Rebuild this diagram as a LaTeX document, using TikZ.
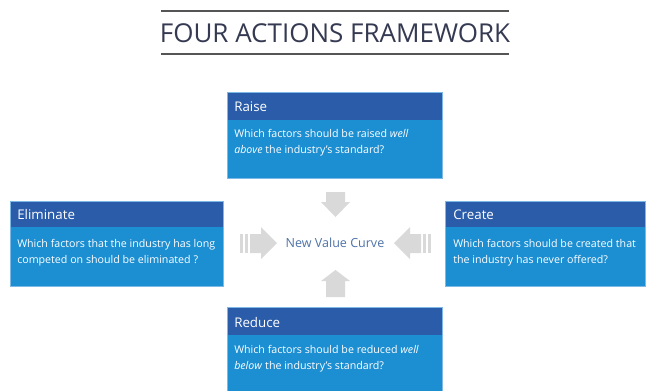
\documentclass[tikz,border=0pt]{standalone}
\usepackage{fontspec}
\setmainfont{Open Sans}
\newfontfamily\titlefont{Open Sans}
\definecolor{hdr}{HTML}{2B5CA9}
\definecolor{bdy}{HTML}{1C8ED2}
\definecolor{bordc}{HTML}{7DB8E6}
\definecolor{arr}{HTML}{D9D9D9}
\definecolor{nvc}{HTML}{4F73A8}
\definecolor{ttl}{HTML}{353A52}
\definecolor{rule}{HTML}{555555}
\begin{document}
\begin{tikzpicture}[x=0.75pt,y=-0.75pt,
  hdrtext/.style={anchor=base west,inner sep=0pt,text=white,font=\fontsize{10}{12}\selectfont},
  bodytext/.style={anchor=base west,inner sep=0pt,text=white,font=\fontsize{8}{9}\selectfont},
  arrowshape/.style={fill=arr,draw=none},
  rulestyle/.style={draw=rule,line width=0.9pt}]
\useasboundingbox (0,0) rectangle (649,390);
\fill[white] (0,0) rectangle (649,390);
% title
\coordinate (tl1) at (161,11); \coordinate (tr1) at (509,11);
\coordinate (tl2) at (161,54); \coordinate (tr2) at (509,54);
\draw[rulestyle] (tl1) -- (tr1);
\draw[rulestyle] (tl2) -- (tr2);
\node[anchor=base,inner sep=0pt,text=ttl,font=\titlefont\fontsize{19.5}{20}\selectfont] (title) at (335,42) {FOUR ACTIONS FRAMEWORK};
% boxes
\newcommand\facbox[5]{%
  \fill[bdy] (#1,#4) rectangle (#3,#5);
  \fill[hdr] (#1,#2) rectangle (#3,#4);
  \draw[bordc,line width=0.4pt] (#1,#2) rectangle (#3,#5);
}
\facbox{227}{92}{442}{120}{178}
\facbox{10}{201}{223}{227}{286}
\facbox{445}{201}{645}{227}{286}
\facbox{227}{307}{442}{335}{391}
% texts
\node[hdrtext] (raiseh) at (234,111) {Raise};
\node[bodytext] (raise1) at (234,137) {Which factors should be raised \textit{well}};
\node[bodytext] (raise2) at (234,153) {\textit{above} the industry’s standard?};
\node[hdrtext] (elimh) at (17,219) {Eliminate};
\node[bodytext] (elim1) at (17,247) {Which factors that the industry has long};
\node[bodytext] (elim2) at (17,263) {competed on should be eliminated ?};
\node[hdrtext] (createh) at (453,219) {Create};
\node[bodytext] (create1) at (453,247) {Which factors should be created that};
\node[bodytext] (create2) at (453,263) {the industry has never offered?};
\node[hdrtext] (reduceh) at (234,327) {Reduce};
\node[bodytext] (reduce1) at (234,353) {Which factors should be reduced \textit{well}};
\node[bodytext] (reduce2) at (234,369) {\textit{below} the industry’s standard?};
% centre
\node[text=nvc,font=\fontsize{9.4}{11}\selectfont,inner sep=0pt] (nvc) at (335,243) {New Value Curve};
% down arrow
\fill[arrowshape] (326,192) -- (345,192) -- (345,202) -- (350,202) -- (335.5,217) -- (321,202) -- (326,202) -- cycle;
% up arrow
\fill[arrowshape] (326,297) -- (345,297) -- (345,281) -- (350,281) -- (335.5,270) -- (321,281) -- (326,281) -- cycle;
% right-pointing arrow (left side)
\fill[arrowshape] (240,234) rectangle (243,253);
\fill[arrowshape] (245,234) rectangle (248,253);
\fill[arrowshape] (250,234) -- (261,234) -- (261,227) -- (277,243) -- (261,259) -- (261,253) -- (250,253) -- cycle;
% left-pointing arrow (right side)
\fill[arrowshape] (428,234) rectangle (431,253);
\fill[arrowshape] (423,234) rectangle (426,253);
\fill[arrowshape] (421,234) -- (410,234) -- (410,227) -- (394,243) -- (410,259) -- (410,253) -- (421,253) -- cycle;
\end{tikzpicture}
\end{document}
